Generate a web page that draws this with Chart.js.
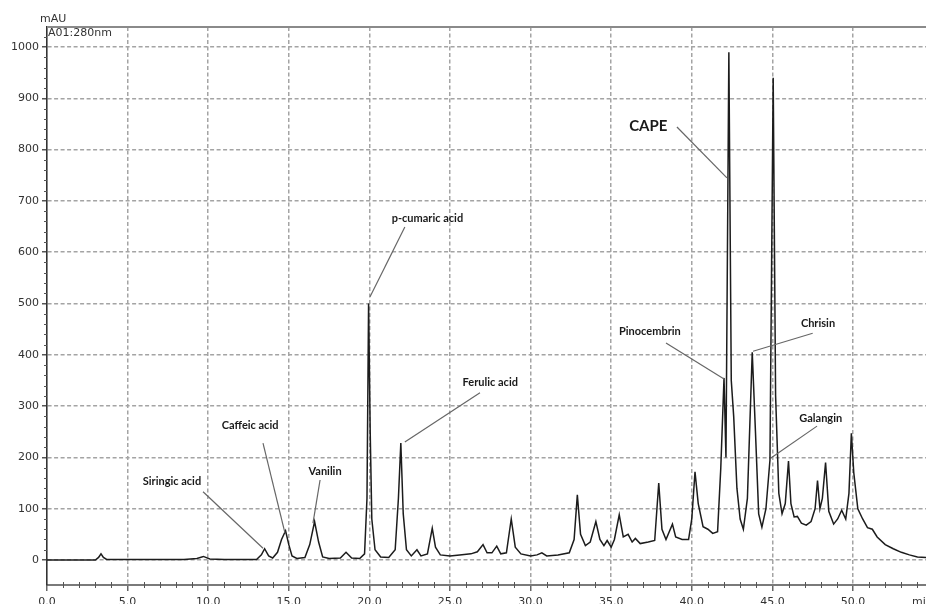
<!DOCTYPE html>
<html>
<head>
<meta charset="utf-8">
<script src="https://cdn.jsdelivr.net/npm/chart.js@4.4.1/dist/chart.umd.min.js"></script>
<style>
  body { margin: 0; background: #fff; }
  #wrap { width: 926px; height: 604px; }
</style>
</head>
<body>
<div id="wrap"><canvas id="chrom" width="926" height="604"></canvas></div>
<script>
// retention time (min) and absorbance at 280 nm (mAU)
const times = [0.0, 3.0, 3.2, 3.35, 3.5, 3.7, 6.0, 8.5, 9.3, 9.7, 10.1, 11.0, 13.0, 13.3, 13.5, 13.75,
  14.0, 14.3, 14.55, 14.8, 15.0, 15.2, 15.5, 16.0, 16.3, 16.6, 16.85, 17.1, 17.5, 18.2, 18.55, 18.9,
  19.4, 19.7, 19.85, 19.95, 20.05, 20.15, 20.35, 20.7, 21.2, 21.6, 21.8, 21.95, 22.1, 22.3, 22.6,
  22.95, 23.2, 23.6, 23.9, 24.1, 24.4, 25.0, 25.6, 26.3, 26.7, 27.05, 27.3, 27.6, 27.9, 28.15, 28.5,
  28.8, 29.05, 29.4, 30.0, 30.4, 30.7, 31.0, 31.7, 32.4, 32.7, 32.9, 33.1, 33.4, 33.7, 34.05, 34.3,
  34.55, 34.75, 35.0, 35.2, 35.5, 35.75, 36.05, 36.3, 36.5, 36.8, 37.3, 37.7, 37.95, 38.15, 38.4,
  38.8, 39.0, 39.4, 39.8, 40.0, 40.2, 40.4, 40.7, 41.0, 41.3, 41.6, 41.8, 42.0, 42.12, 42.3, 42.45,
  42.6, 42.8, 43.0, 43.2, 43.45, 43.75, 43.95, 44.15, 44.35, 44.6, 44.85, 45.05, 45.2, 45.4, 45.6,
  45.8, 46.0, 46.15, 46.35, 46.55, 46.8, 47.1, 47.4, 47.65, 47.8, 47.95, 48.1, 48.3, 48.5, 48.8,
  49.05, 49.3, 49.55, 49.75, 49.9, 50.05, 50.3, 50.6, 50.9, 51.2, 51.5, 52.0, 52.5, 53.0, 53.5,
  54.0, 54.6];
const mAU = [0, 0, 5, 12, 5, 1, 1, 1, 3, 7, 2, 1, 1, 10, 22, 8,
  4, 15, 40, 57, 30, 8, 3, 5, 30, 75, 35, 6, 3, 4, 15, 4,
  3, 12, 120, 500, 250, 80, 20, 6, 5, 20, 120, 228, 90, 20, 8,
  20, 8, 12, 62, 25, 10, 8, 10, 12, 16, 30, 14, 14, 27, 12, 14,
  80, 25, 12, 8, 10, 14, 8, 10, 14, 40, 127, 50, 28, 35, 75, 40,
  28, 38, 25, 40, 88, 45, 50, 35, 42, 32, 35, 38, 150, 60, 40,
  70, 45, 40, 40, 80, 172, 110, 65, 60, 52, 55, 180, 355, 200, 990, 350,
  280, 140, 80, 60, 120, 405, 250, 90, 64, 100, 195, 940, 320, 130, 90,
  110, 193, 110, 84, 85, 72, 68, 75, 100, 155, 100, 120, 190, 95, 70,
  80, 97, 80, 130, 247, 170, 100, 80, 63, 60, 45, 30, 22, 15, 10,
  6, 5];

// axis ticks
const xTicks = [0, 5, 10, 15, 20, 25, 30, 35, 40, 45, 50];
const yTicks = [0, 100, 200, 300, 400, 500, 600, 700, 800, 900, 1000];

// peak names
const peakNames = ['Siringic acid', 'Caffeic acid', 'Vanilin', 'p-cumaric acid', 'Ferulic acid',
  'CAPE', 'Pinocembrin', 'Chrisin', 'Galangin'];

// label placement in plot units (min, mAU): text centre, leader start, leader end
const labelAt = [[7.75, 154], [12.6, 263], [17.25, 173], [23.6, 665], [27.5, 347],
  [37.3, 846], [37.4, 446], [47.83, 462], [48.0, 275]];
const leaderFrom = [[9.68, 133], [13.4, 228], [16.94, 156], [22.2, 649], [26.86, 326],
  [39.08, 844], [38.4, 423], [47.5, 442], [47.77, 261]];
const leaderTo = [[13.4, 23], [14.76, 53], [16.5, 72], [20.04, 513], [22.2, 230],
  [42.18, 745], [42.0, 353], [43.8, 407], [44.91, 199]];

const gridGrey = '#a4a4a4';

// frame, minor ticks, units and peak labels
const extras = {
  id: 'extras',
  afterDraw(chart) {
    const { ctx, chartArea: a } = chart;
    const sx = chart.scales.x;
    const sy = chart.scales.y;
    ctx.save();
    ctx.strokeStyle = '#8a8a8a';
    ctx.lineWidth = 2;
    ctx.beginPath();
    ctx.moveTo(a.left, a.top);
    ctx.lineTo(a.right, a.top);
    ctx.stroke();

    ctx.strokeStyle = '#555';
    ctx.lineWidth = 1;
    ctx.beginPath();
    for (let t = 1; t < 55; t++) {
      if (t % 5 === 0) continue;
      const px = Math.round(sx.getPixelForValue(t)) + 0.5;
      ctx.moveTo(px, a.bottom - 3);
      ctx.lineTo(px, a.bottom + 3);
    }
    for (let v = 20; v < 1040; v += 20) {
      if (v % 100 === 0) continue;
      const py = Math.round(sy.getPixelForValue(v)) + 0.5;
      ctx.moveTo(a.left - 3, py);
      ctx.lineTo(a.left, py);
    }
    ctx.stroke();

    ctx.fillStyle = '#333';
    ctx.font = '11px "DejaVu Sans"';
    ctx.textAlign = 'left';
    ctx.textBaseline = 'middle';
    ctx.fillText('mAU', 40, 19);
    ctx.fillText('A01:280nm', 48, 33);
    ctx.textBaseline = 'top';
    ctx.fillText('min', 912, 597);

    // leaders
    ctx.strokeStyle = '#666';
    ctx.lineWidth = 1.2;
    peakNames.forEach((name, i) => {
      ctx.beginPath();
      ctx.moveTo(sx.getPixelForValue(leaderFrom[i][0]), sy.getPixelForValue(leaderFrom[i][1]));
      ctx.lineTo(sx.getPixelForValue(leaderTo[i][0]), sy.getPixelForValue(leaderTo[i][1]));
      ctx.stroke();
    });
    ctx.fillStyle = '#1a1a1a';
    ctx.textAlign = 'center';
    ctx.textBaseline = 'middle';
    peakNames.forEach((name, i) => {
      ctx.font = name === 'CAPE' ? 'bold 15px Lato' : 'bold 11px Lato';
      ctx.fillText(name, sx.getPixelForValue(labelAt[i][0]), sy.getPixelForValue(labelAt[i][1]));
    });
    ctx.restore();
  },
};

const trace = times.map((t, i) => ({ x: t, y: mAU[i] }));

new Chart(document.getElementById('chrom'), {
  type: 'scatter',
  data: {
    datasets: [{
      data: trace,
      showLine: true,
      borderColor: '#1c1c1c',
      borderWidth: 1.5,
      pointRadius: 0,
      tension: 0,
    }],
  },
  options: {
    responsive: false,
    animation: false,
    layout: { padding: { top: 27, right: 0, left: 0, bottom: 0 } },
    plugins: { legend: { display: false }, tooltip: { enabled: false } },
    scales: {
      x: {
        type: 'linear',
        min: 0,
        max: 54.53,
        afterBuildTicks: (s) => { s.ticks = xTicks.map((v) => ({ value: v })); },
        afterFit: (s) => { s.height = 19; },
        ticks: {
          color: '#333',
          font: { family: 'DejaVu Sans', size: 11 },
          padding: 5,
          maxRotation: 0,
          callback: (v) => Number(v).toFixed(1),
        },
        grid: {
          color: (c) => (c.tick && c.tick.value === 0 ? 'rgba(0,0,0,0)' : gridGrey),
          lineWidth: 1.5,
          tickLength: 6,
          tickColor: '#666',
        },
        border: { display: true, color: '#7a7a7a', width: 2, dash: [4, 2.5] },
      },
      y: {
        min: -48.7,
        max: 1039,
        afterBuildTicks: (s) => { s.ticks = yTicks.map((v) => ({ value: v })); },
        afterFit: (s) => { s.width = 47; },
        ticks: {
          color: '#333',
          font: { family: 'DejaVu Sans', size: 11 },
          padding: 3,
          callback: (v) => String(v),
        },
        grid: {
          color: gridGrey,
          lineWidth: 1.5,
          tickLength: 5,
          tickColor: '#555',
        },
        border: { display: true, color: '#333', width: 1.6, dash: [4, 2.5] },
      },
    },
  },
  plugins: [extras],
});
</script>
</body>
</html>
